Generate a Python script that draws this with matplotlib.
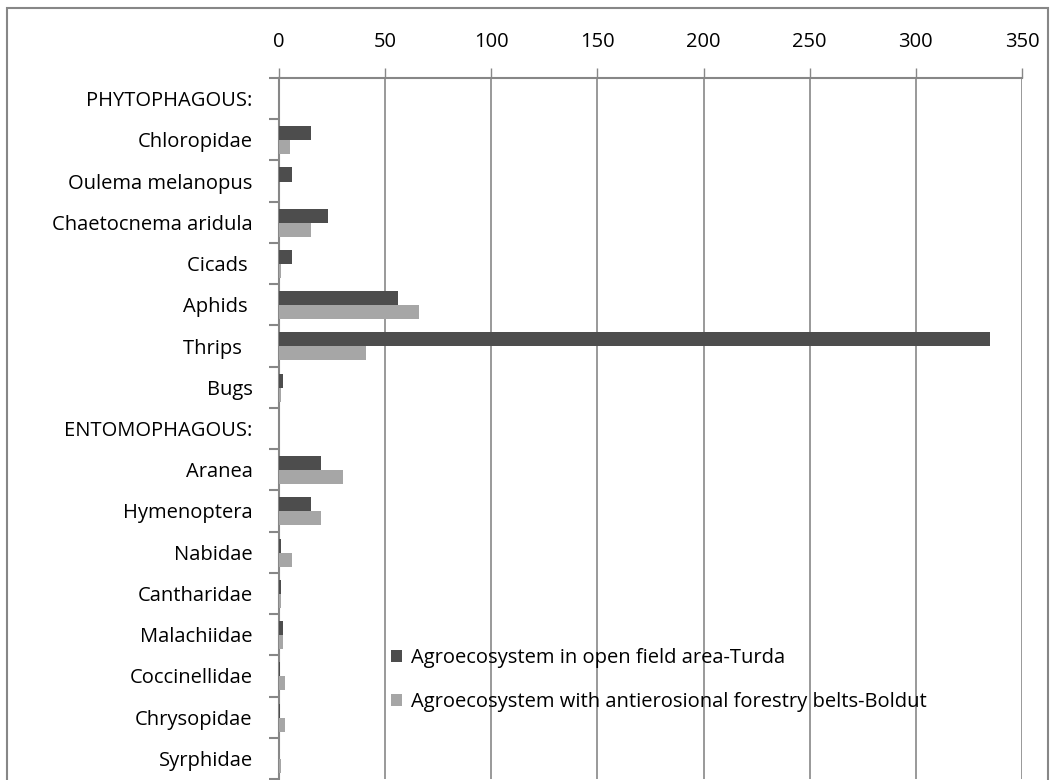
import numpy as np
import matplotlib
matplotlib.use("Agg")
import matplotlib.pyplot as plt
from matplotlib.patches import Rectangle

plt.rcParams['font.family'] = ['Open Sans', 'DejaVu Sans']

# Data
categories = ["PHYTOPHAGOUS:", "Chloropidae", "Oulema melanopus", "Chaetocnema aridula",
              "Cicads ", "Aphids ", "Thrips  ", "Bugs", "ENTOMOPHAGOUS:", "Aranea",
              "Hymenoptera", "Nabidae", "Cantharidae", "Malachiidae", "Coccinellidae",
              "Chrysopidae", "Syrphidae"]
turda = [0, 15, 6, 23, 6, 56, 335, 2, 0, 20, 15, 1, 1, 2, 0.3, 0.3, 0]
boldut = [0, 5, 0, 15, 1, 66, 41, 1, 0, 30, 20, 6, 1, 2, 3, 3, 1]
series_names = ["Agroecosystem in open field area-Turda",
                "Agroecosystem with antierosional forestry belts-Boldut"]
xticks = [0, 50, 100, 150, 200, 250, 300, 350]

dark = "#4D4D4D"
light = "#A6A6A6"
gridc = "#878787"
fs = 14.5

fig = plt.figure(figsize=(10.51, 7.8), dpi=100)
ax = fig.add_axes([279 / 1051, 1 - 779 / 780, (1022 - 279) / 1051, (779 - 78) / 780])

y = np.arange(len(categories))
h = 0.34
b1 = ax.barh(y - 0.16, turda, height=h, color=dark, label=series_names[0], zorder=3)
b2 = ax.barh(y + 0.18, boldut, height=h, color=light, label=series_names[1], zorder=3)

ax.set_xlim(0, 350)
ax.set_ylim(len(categories) - 0.5, -0.5)

# x axis on top
ax.xaxis.tick_top()
ax.set_xticks(xticks)
ax.tick_params(axis='x', direction='out', length=7, width=1, color=gridc,
               labelsize=fs, pad=12, labelcolor='black')
ax.grid(axis='x', color=gridc, linewidth=1.2, zorder=0)

# y axis: labels in rows, ticks on boundaries
ax.set_yticks(y)
ax.set_yticklabels(categories)
ax.set_yticks(np.arange(len(categories) + 1) - 0.5, minor=True)
ax.tick_params(axis='y', which='major', length=0, labelsize=fs, pad=19)
ax.tick_params(axis='y', which='minor', direction='out', length=7, width=1.5, color=gridc)

for s in ['right', 'bottom']:
    ax.spines[s].set_visible(False)
for s in ['left', 'top']:
    ax.spines[s].set_color(gridc)
    ax.spines[s].set_linewidth(1.5)

leg = fig.legend(handles=[b1, b2], loc='upper left', bbox_to_anchor=(383 / 1051, 1 - 640 / 780),
                 frameon=False, fontsize=fs, handlelength=0.55, handleheight=0.55,
                 handletextpad=0.45, labelspacing=1.2, borderaxespad=0)

# outer chart border
fig.patches.append(Rectangle((7 / 1051, -0.01), (1048 - 7) / 1051, 1.01 - 8 / 780,
                             transform=fig.transFigure, fill=False, edgecolor=gridc,
                             linewidth=1.5))

fig.savefig("out.png", dpi=100)
